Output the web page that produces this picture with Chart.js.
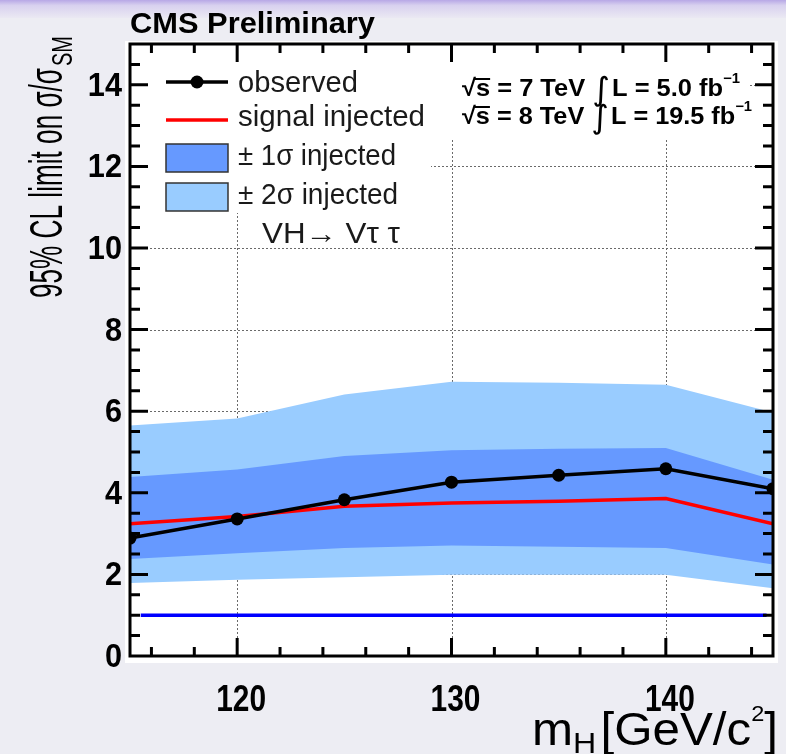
<!DOCTYPE html>
<html>
<head>
<meta charset="utf-8">
<script src="https://cdn.jsdelivr.net/npm/chart.js@4.4.1/dist/chart.umd.min.js"></script>
<style>
  html, body { margin: 0; padding: 0; background: #ededf3; overflow: hidden; }
  canvas { display: block; }
</style>
</head>
<body>
<canvas id="limitChart" width="786" height="754"></canvas>
<script>
// Higgs mass points (GeV/c^2) and the limits
const massPoints = [115, 120, 125, 130, 135, 140, 145];
const observed = [2.89, 3.36, 3.83, 4.26, 4.43, 4.59, 4.10];
const signalInjected = [3.24, 3.42, 3.67, 3.75, 3.79, 3.86, 3.24];
const band1Up = [4.39, 4.57, 4.90, 5.04, 5.08, 5.10, 4.32];
const band1Down = [2.38, 2.52, 2.65, 2.71, 2.68, 2.65, 2.24];
const band2Up = [5.65, 5.82, 6.41, 6.72, 6.70, 6.65, 5.97];
const band2Down = [1.79, 1.87, 1.93, 1.99, 1.99, 1.99, 1.66];

// SM reference line (sigma/sigma_SM = 1)
const smMass = [115.5, 144.7];
const smLevel = [1, 1];

const xTicks = [120, 130, 140];
const yTicks = [0, 2, 4, 6, 8, 10, 12, 14];

const toPoints = (xs, ys) => xs.map((x, i) => ({ x: x, y: ys[i] }));

const SANS = '"Liberation Sans", Arial, Helvetica, sans-serif';

// draws a run of text pieces squeezed/stretched to a target width
function drawPieces(ctx, x, y, pieces, targetW, rotated) {
  ctx.save();
  let total = 0;
  pieces.forEach(p => { ctx.font = p.font; p.w = ctx.measureText(p.t).width + (p.gap || 0); total += p.w; });
  const s = targetW ? targetW / total : 1;
  ctx.translate(x, y);
  if (rotated) ctx.rotate(-Math.PI / 2);
  ctx.scale(s, 1);
  ctx.textAlign = 'left';
  ctx.textBaseline = 'alphabetic';
  let cx = 0;
  pieces.forEach(p => {
    ctx.font = p.font;
    ctx.fillStyle = p.color || '#000';
    ctx.fillText(p.t, cx, p.dy || 0);
    if (p.over) {
      ctx.fillRect(cx - 1, (p.dy || 0) - p.over, p.w + 1, 2);
    }
    cx += p.w;
  });
  ctx.restore();
}

const rootFrame = {
  id: 'rootFrame',
  beforeDraw(chart) {
    const ctx = chart.ctx;
    ctx.save();
    const g = ctx.createLinearGradient(0, 0, 0, 18);
    g.addColorStop(0, '#b7a8e6');
    g.addColorStop(0.3, '#d8d1ef');
    g.addColorStop(1, '#ebe9f3');
    ctx.fillStyle = '#ededf3';
    ctx.fillRect(0, 0, chart.width, chart.height);
    ctx.fillStyle = g;
    ctx.fillRect(0, 0, chart.width, 18);
    // white pad behind the frame
    ctx.fillStyle = '#ffffff';
    ctx.fillRect(125, 41, 653, 622);
    ctx.restore();
  },
  beforeDatasetsDraw(chart) {
    const { ctx, chartArea: a, scales: { x, y } } = chart;
    ctx.save();
    ctx.strokeStyle = '#6a6a6a';
    ctx.lineWidth = 1;
    ctx.setLineDash([2, 2]);
    ctx.beginPath();
    yTicks.filter(v => v > 0).forEach(v => {
      const py = Math.round(y.getPixelForValue(v)) + 0.5;
      ctx.moveTo(a.left, py); ctx.lineTo(a.right, py);
    });
    xTicks.forEach(v => {
      const px = Math.round(x.getPixelForValue(v)) + 0.5;
      ctx.moveTo(px, a.top); ctx.lineTo(px, a.bottom);
    });
    ctx.stroke();
    ctx.setLineDash([]);
    // legend / label boxes hide the grid
    ctx.fillStyle = '#ffffff';
    ctx.fillRect(a.left + 1, a.top + 1, 300, 168);
    ctx.fillRect(430, a.top + 1, 320, 95);
    ctx.restore();
  },
  afterDraw(chart) {
    const { ctx, chartArea: a, scales: { x, y } } = chart;
    ctx.save();

    // ---- legend ----
    ctx.strokeStyle = '#000';
    ctx.lineWidth = 3.5;
    ctx.beginPath(); ctx.moveTo(166, 82); ctx.lineTo(228, 82); ctx.stroke();
    ctx.fillStyle = '#000';
    ctx.beginPath(); ctx.arc(197, 82, 6.5, 0, Math.PI * 2); ctx.fill();
    ctx.strokeStyle = '#ff0000';
    ctx.beginPath(); ctx.moveTo(166, 120); ctx.lineTo(228, 120); ctx.stroke();
    ctx.lineWidth = 1.5;
    ctx.strokeStyle = '#333';
    ctx.fillStyle = '#6699ff';
    ctx.fillRect(166, 144, 62, 28); ctx.strokeRect(166, 144, 62, 28);
    ctx.fillStyle = '#99ccff';
    ctx.fillRect(166, 183, 62, 28); ctx.strokeRect(166, 183, 62, 28);

    const legFont = '29px ' + SANS;
    drawPieces(ctx, 238, 92, [{ t: 'observed', font: legFont, color: '#1a1a1a' }], 120);
    drawPieces(ctx, 238, 126, [{ t: 'signal injected', font: legFont, color: '#1a1a1a' }], 187);
    drawPieces(ctx, 238, 165, [{ t: '± 1σ injected', font: legFont, color: '#1a1a1a' }], 158);
    drawPieces(ctx, 238, 204, [{ t: '± 2σ injected', font: legFont, color: '#1a1a1a' }], 160);
    drawPieces(ctx, 262, 243, [{ t: 'VH→ Vτ τ', font: legFont, color: '#1a1a1a' }], 138);

    // ---- energy / luminosity labels ----
    const bf = 'bold 24px ' + SANS;
    const lumiLine = (yy, e, l, w) => drawPieces(ctx, 462, yy, [
      { t: '√', font: bf },
      { t: 's', font: bf, over: 18 },
      { t: ' = ' + e + ' TeV ', font: bf },
      { t: '∫', font: '32px "DejaVu Sans", sans-serif', dy: 4, gap: 2 },
      { t: 'L = ' + l + ' fb', font: bf },
      { t: '−1', font: 'bold 14px ' + SANS, dy: -13 }
    ], w);
    lumiLine(96, '7', '5.0', 278);
    lumiLine(124, '8', '19.5', 290);

    // ---- frame and inward ticks ----
    ctx.strokeStyle = '#000';
    ctx.lineWidth = 3;
    ctx.strokeRect(a.left, a.top, a.right - a.left, a.bottom - a.top);
    ctx.beginPath();
    for (let v = 0.5; v < 15; v += 0.5) {
      const py = y.getPixelForValue(v);
      const len = v % 2 === 0 ? 18 : 10;
      ctx.moveTo(a.left, py); ctx.lineTo(a.left + len, py);
      ctx.moveTo(a.right, py); ctx.lineTo(a.right - len, py);
    }
    for (let v = 116; v < 145; v += 2) {
      const px = x.getPixelForValue(v);
      const len = v % 10 === 0 ? 18 : 9;
      ctx.moveTo(px, a.bottom); ctx.lineTo(px, a.bottom - len);
      ctx.moveTo(px, a.top); ctx.lineTo(px, a.top + len);
    }
    ctx.stroke();

    // ---- tick labels ----
    ctx.fillStyle = '#000';
    ctx.textBaseline = 'middle';
    yTicks.forEach(v => {
      ctx.save();
      ctx.font = 'bold 33px ' + SANS;
      ctx.textAlign = 'right';
      ctx.translate(122, y.getPixelForValue(v) + 2);
      ctx.scale(0.93, 1);
      ctx.fillText(String(v), 0, 0);
      ctx.restore();
    });
    xTicks.forEach(v => {
      ctx.save();
      ctx.font = 'bold 36px ' + SANS;
      ctx.textAlign = 'center';
      ctx.textBaseline = 'alphabetic';
      ctx.translate(x.getPixelForValue(v) + 4, 711);
      ctx.scale(0.83, 1);
      ctx.fillText(String(v), 0, 0);
      ctx.restore();
    });

    // ---- titles ----
    drawPieces(ctx, 130, 33, [{ t: 'CMS Preliminary', font: 'bold 30px ' + SANS }], 245);
    drawPieces(ctx, 532, 745, [
      { t: 'm', font: '46px ' + SANS },
      { t: 'H', font: '30px ' + SANS, dy: 8, gap: 4 },
      { t: '[GeV/c', font: '46px ' + SANS },
      { t: '2', font: '22px ' + SANS, dy: -24 },
      { t: ']', font: '46px ' + SANS }
    ], 246);
    drawPieces(ctx, 62, 298, [
      { t: '95% CL limit on σ/σ', font: '46px ' + SANS }
    ], 230, true);
    drawPieces(ctx, 72, 66, [
      { t: 'SM', font: '29px ' + SANS }
    ], 30, true);

    ctx.restore();
  }
};

const lineDefaults = { pointRadius: 0, pointHoverRadius: 0, tension: 0, fill: false };

new Chart(document.getElementById('limitChart'), {
  type: 'line',
  data: {
    datasets: [
      Object.assign({}, lineDefaults, {
        label: 'observed', data: toPoints(massPoints, observed),
        borderColor: '#000', backgroundColor: '#000', borderWidth: 3.5,
        pointRadius: 6.5, pointHoverRadius: 6.5, pointBorderWidth: 0, order: 0
      }),
      Object.assign({}, lineDefaults, {
        label: 'signal injected', data: toPoints(massPoints, signalInjected),
        borderColor: '#ff0000', borderWidth: 3.5, order: 1
      }),
      Object.assign({}, lineDefaults, {
        label: 'SM', data: toPoints(smMass, smLevel),
        borderColor: '#0000ff', borderWidth: 3.5, order: 2
      }),
      Object.assign({}, lineDefaults, {
        label: '1 sigma up', data: toPoints(massPoints, band1Up),
        borderColor: 'rgba(0,0,0,0)', borderWidth: 0, backgroundColor: '#6699ff', fill: '+1', order: 3
      }),
      Object.assign({}, lineDefaults, {
        label: '1 sigma down', data: toPoints(massPoints, band1Down),
        borderColor: 'rgba(0,0,0,0)', borderWidth: 0, order: 4
      }),
      Object.assign({}, lineDefaults, {
        label: '2 sigma up', data: toPoints(massPoints, band2Up),
        borderColor: 'rgba(0,0,0,0)', borderWidth: 0, backgroundColor: '#99ccff', fill: '+1', order: 5
      }),
      Object.assign({}, lineDefaults, {
        label: '2 sigma down', data: toPoints(massPoints, band2Down),
        borderColor: 'rgba(0,0,0,0)', borderWidth: 0, order: 6
      })
    ]
  },
  options: {
    responsive: false,
    animation: false,
    events: [],
    layout: { padding: { left: 130, right: 13, top: 44, bottom: 98 } },
    scales: {
      x: { type: 'linear', min: 115, max: 145, display: false },
      y: { type: 'linear', min: 0, max: 15, display: false }
    },
    plugins: {
      legend: { display: false },
      tooltip: { enabled: false }
    }
  },
  plugins: [rootFrame]
});
</script>
</body>
</html>
